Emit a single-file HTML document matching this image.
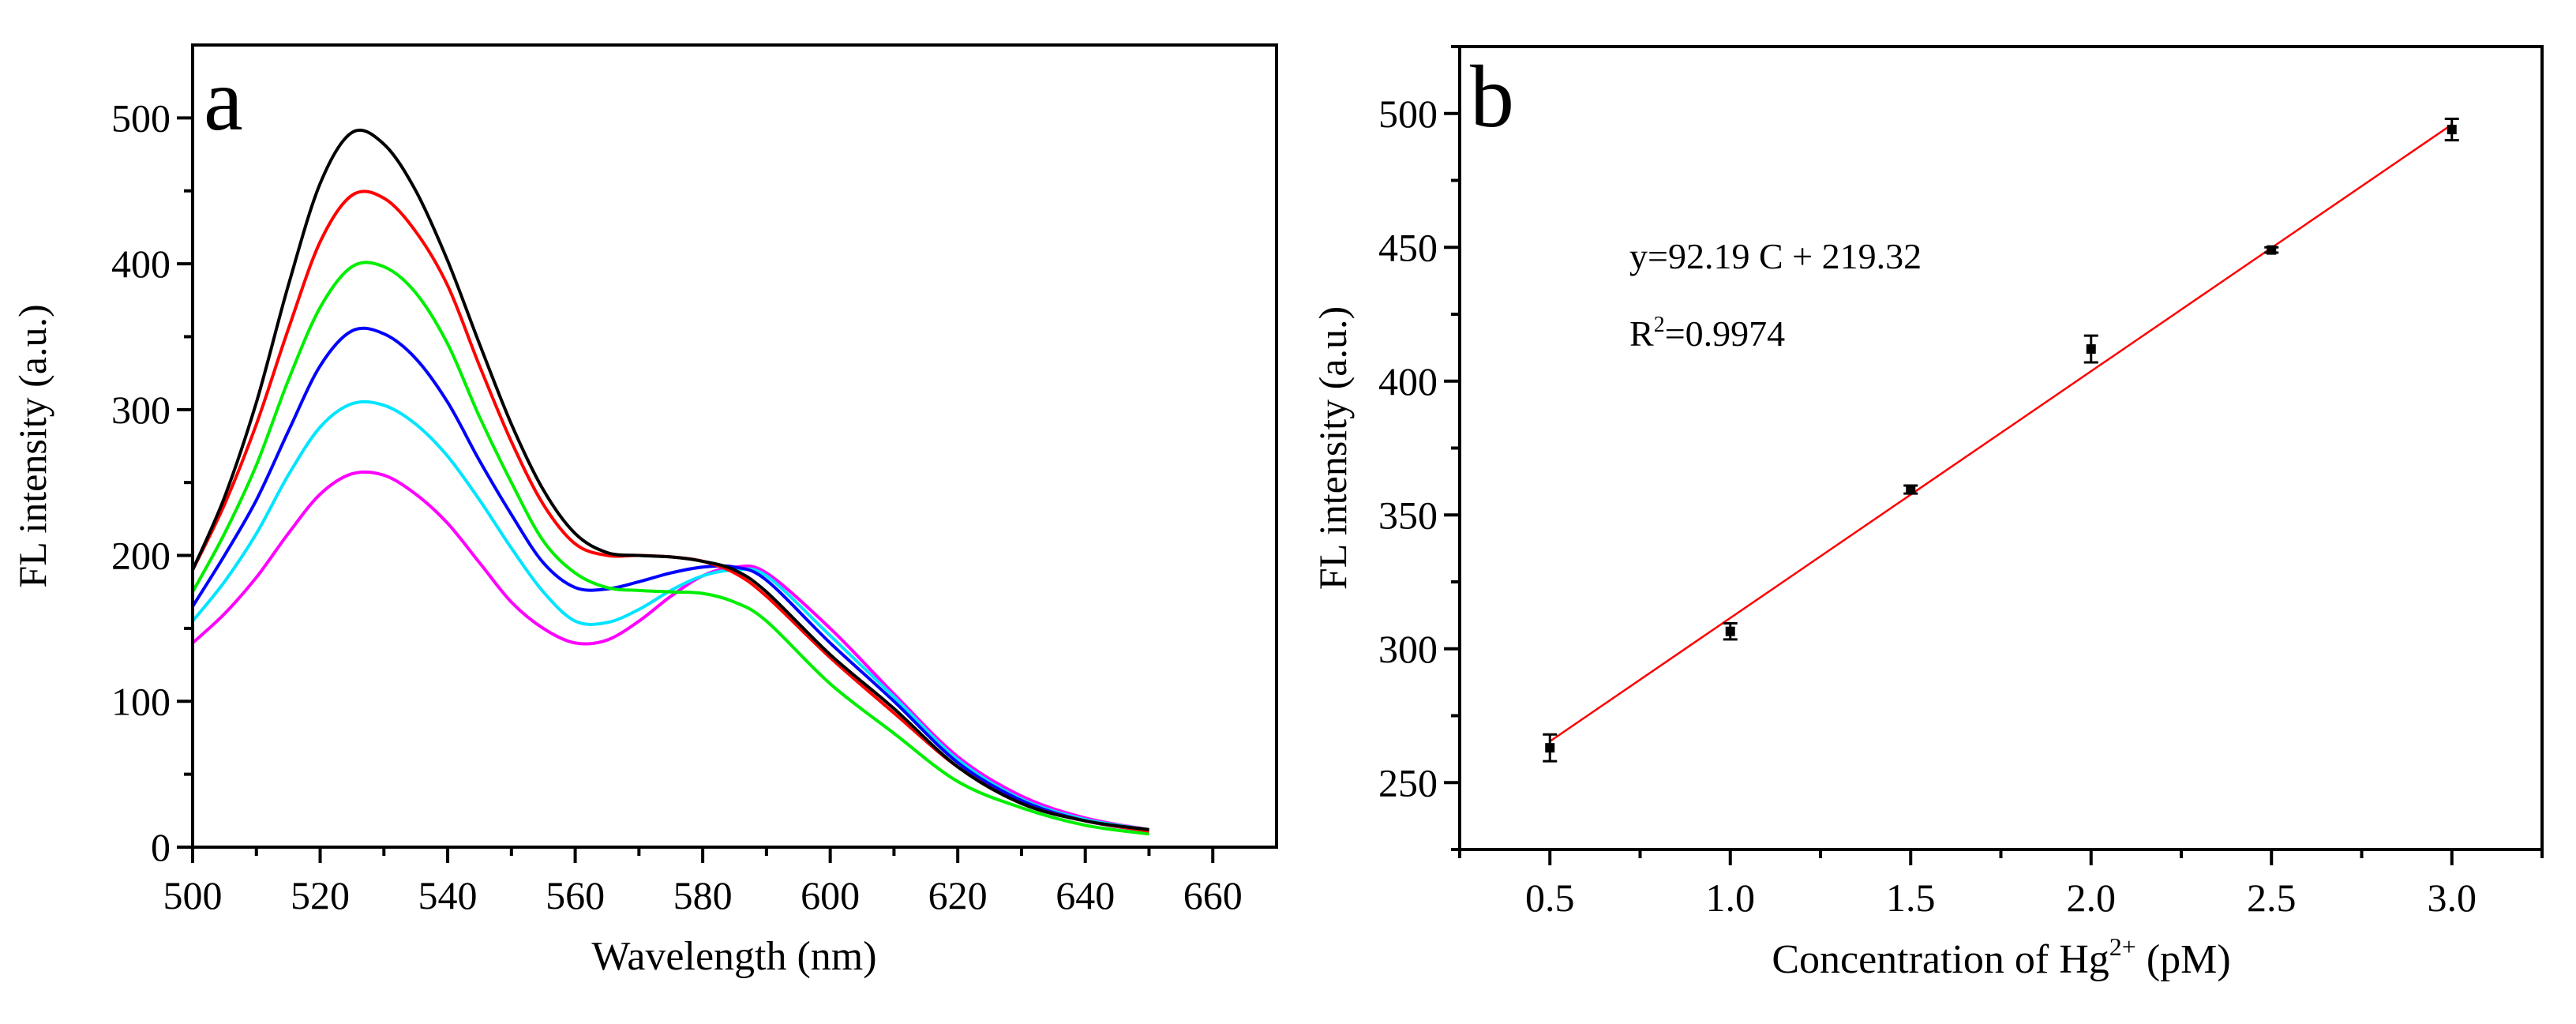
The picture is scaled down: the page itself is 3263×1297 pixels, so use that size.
<!DOCTYPE html>
<html><head><meta charset="utf-8">
<style>
html,body{margin:0;padding:0;background:#fff;}
svg{display:block;font-family:"Liberation Serif",serif;}
</style></head>
<body>
<svg id="fig" width="3263" height="1297" viewBox="0 0 3263 1297" xmlns="http://www.w3.org/2000/svg">
<rect x="0" y="0" width="3263" height="1297" fill="#fff"/>
<g id="pa"></g>
<g id="pb"></g>
</svg>
<script>
// Panel a data
const wavelengths=[500,505,510,515,520,525,530,535,540,545,550,555,560,565,570,575,580,585,590,600,610,620,630,640,650];
const blackSeries=[190,240,305,385,455,490,482,450,402,345,290,245,215,202,200,199,196,190,175,132,95,55,30,18,12];
const redSeries=[190,235,290,355,415,447,445,422,385,330,278,235,208,200,200,199,196,188,172,130,92,55,30,18,11];
const greenSeries=[175,215,262,320,370,398,398,380,345,295,250,210,188,178,176,175,174,168,155,112,78,45,27,15,9];
const blueSeries=[165,200,238,285,330,354,352,335,305,265,228,195,178,177,182,188,192,192,183,140,100,58,32,18,11];
const cyanSeries=[155,182,215,255,288,304,303,290,268,238,205,175,155,154,163,176,186,190,186,145,103,60,33,19,12];
const magentaSeries=[140,160,185,215,242,256,255,242,222,195,168,150,140,142,155,172,186,192,188,150,105,62,35,20,12];
const aXTicks=[500,520,540,560,580,600,620,640,660];
const aYTicks=[0,100,200,300,400,500];
// Panel b data
const concentrations=[0.5,1.0,1.5,2.0,2.5,3.0];
const intensities=[263,306.5,359.5,412,449,494];
const errors=[5,3,1.5,5,1,4];
const fitSlope=92.19, fitIntercept=219.32;
const bXTicks=[0.5,1.0,1.5,2.0,2.5,3.0];
const bYTicks=[250,300,350,400,450,500];

const NS="http://www.w3.org/2000/svg";
function mk(parent,tag,attrs){const e=document.createElementNS(NS,tag);for(const k in attrs)e.setAttribute(k,attrs[k]);parent.appendChild(e);return e;}

// ---------- Panel a ----------
const pa=document.getElementById('pa');
const A={l:244,r:1617,t:57,b:1073,x0:500,x1:670,y0:0,y1:550};
const ax=v=>A.l+(v-A.x0)/(A.x1-A.x0)*(A.r-A.l);
const ay=v=>A.b-(v-A.y0)/(A.y1-A.y0)*(A.b-A.t);
function smoothPath(xs,ys){
  const p=xs.map((x,i)=>[x,ys[i]]);
  let d=`M${p[0][0].toFixed(1)},${p[0][1].toFixed(1)}`;
  for(let i=0;i<p.length-1;i++){
    const p0=p[Math.max(0,i-1)],p1=p[i],p2=p[i+1],p3=p[Math.min(p.length-1,i+2)];
    const c1=[p1[0]+(p2[0]-p0[0])/6,p1[1]+(p2[1]-p0[1])/6];
    const c2=[p2[0]-(p3[0]-p1[0])/6,p2[1]-(p3[1]-p1[1])/6];
    d+=` C${c1[0].toFixed(1)},${c1[1].toFixed(1)} ${c2[0].toFixed(1)},${c2[1].toFixed(1)} ${p2[0].toFixed(1)},${p2[1].toFixed(1)}`;
  }
  return d;
}
const seriesList=[[magentaSeries,'#ff00ff','magenta'],[cyanSeries,'#00e5ff','cyan'],[blueSeries,'#0000ff','blue'],[greenSeries,'#00ee00','green'],[redSeries,'#ff0000','red'],[blackSeries,'#000000','black']];
seriesList.forEach(s=>{
  const path=mk(pa,'path',{d:smoothPath(wavelengths.map(ax),s[0].map(ay)),fill:'none',stroke:s[1],'stroke-width':4});
  
  
});
const fa=mk(pa,'rect',{x:A.l,y:A.t,width:A.r-A.l,height:A.b-A.t,fill:'none',stroke:'#000','stroke-width':4});


for(let v=500;v<=660;v+=10){
  const major=aXTicks.includes(v);
  mk(pa,'line',{x1:ax(v),x2:ax(v),y1:A.b,y2:A.b+(major?20:11),stroke:'#000','stroke-width':4});
}
aXTicks.forEach(v=>{
  const t=mk(pa,'text',{x:ax(v),y:A.b+78,'font-size':50,'text-anchor':'middle'});t.textContent=v;
  
  
});
for(let v=0;v<=500;v+=50){
  const major=aYTicks.includes(v);
  mk(pa,'line',{x1:A.l,x2:A.l-(major?20:11),y1:ay(v),y2:ay(v),stroke:'#000','stroke-width':4});
}
aYTicks.forEach(v=>{
  const t=mk(pa,'text',{x:A.l-28,y:ay(v)+17,'font-size':50,'text-anchor':'end'});t.textContent=v;
  
  
});
let t=mk(pa,'text',{x:930,y:1228,'font-size':52,'text-anchor':'middle'});t.textContent='Wavelength (nm)';


t=mk(pa,'text',{x:0,y:0,'font-size':50,'text-anchor':'middle',transform:`translate(58,${(A.t+A.b)/2}) rotate(-90)`});t.textContent='FL intensity (a.u.)';


t=mk(pa,'text',{x:258,y:164,'font-size':112});t.textContent='a';



// ---------- Panel b ----------
const pb=document.getElementById('pb');
const B={l:1849,r:3220,t:59,b:1076,x0:0.25,x1:3.25,y0:225,y1:525};
const bx=v=>B.l+(v-B.x0)/(B.x1-B.x0)*(B.r-B.l);
const by=v=>B.b-(v-B.y0)/(B.y1-B.y0)*(B.b-B.t);
const fb=mk(pb,'rect',{x:B.l,y:B.t,width:B.r-B.l,height:B.b-B.t,fill:'none',stroke:'#000','stroke-width':4});


const cMin=concentrations[0],cMax=concentrations[concentrations.length-1];
const fit=mk(pb,'line',{x1:bx(cMin),y1:by(fitSlope*cMin+fitIntercept),x2:bx(cMax),y2:by(fitSlope*cMax+fitIntercept),stroke:'#ff0000','stroke-width':2.5});


concentrations.forEach((c,i)=>{
  const g=mk(pb,'g',{});
  
  
  const x=bx(c),y=by(intensities[i]),yt=by(intensities[i]+errors[i]),yb=by(intensities[i]-errors[i]);
  mk(g,'line',{x1:x,x2:x,y1:yt,y2:yb,stroke:'#000','stroke-width':3});
  mk(g,'line',{x1:x-9,x2:x+9,y1:yt,y2:yt,stroke:'#000','stroke-width':3});
  mk(g,'line',{x1:x-9,x2:x+9,y1:yb,y2:yb,stroke:'#000','stroke-width':3});
  mk(g,'rect',{x:x-6,y:y-6,width:12,height:12,fill:'#000'});
});
for(let v=0.25;v<=3.251;v+=0.25){
  const major=bXTicks.some(m=>Math.abs(m-v)<1e-6);
  mk(pb,'line',{x1:bx(v),x2:bx(v),y1:B.b,y2:B.b+(major?20:11),stroke:'#000','stroke-width':4});
}
bXTicks.forEach(v=>{
  const t=mk(pb,'text',{x:bx(v),y:B.b+78,'font-size':50,'text-anchor':'middle'});t.textContent=v.toFixed(1);
  
  
});
for(let v=225;v<=525;v+=25){
  const major=bYTicks.includes(v);
  mk(pb,'line',{x1:B.l,x2:B.l-(major?20:11),y1:by(v),y2:by(v),stroke:'#000','stroke-width':4});
}
bYTicks.forEach(v=>{
  const t=mk(pb,'text',{x:B.l-28,y:by(v)+17,'font-size':50,'text-anchor':'end'});t.textContent=v;
  
  
});
t=mk(pb,'text',{x:2535,y:1232,'font-size':52,'text-anchor':'middle'});
t.innerHTML='Concentration of Hg<tspan font-size="32" dy="-22">2+</tspan><tspan dy="22"> (pM)</tspan>';


t=mk(pb,'text',{x:0,y:0,'font-size':50,'text-anchor':'middle',transform:`translate(1705,${(B.t+B.b)/2}) rotate(-90)`});t.textContent='FL intensity (a.u.)';


t=mk(pb,'text',{x:1862,y:160,'font-size':112});t.textContent='b';


t=mk(pb,'text',{x:2064,y:340,'font-size':46});t.textContent='y=92.19 C + 219.32';


t=mk(pb,'text',{x:2064,y:438,'font-size':46});
t.innerHTML='R<tspan font-size="28" dy="-18">2</tspan><tspan dy="18">=0.9974</tspan>';


</script>
</body></html>
